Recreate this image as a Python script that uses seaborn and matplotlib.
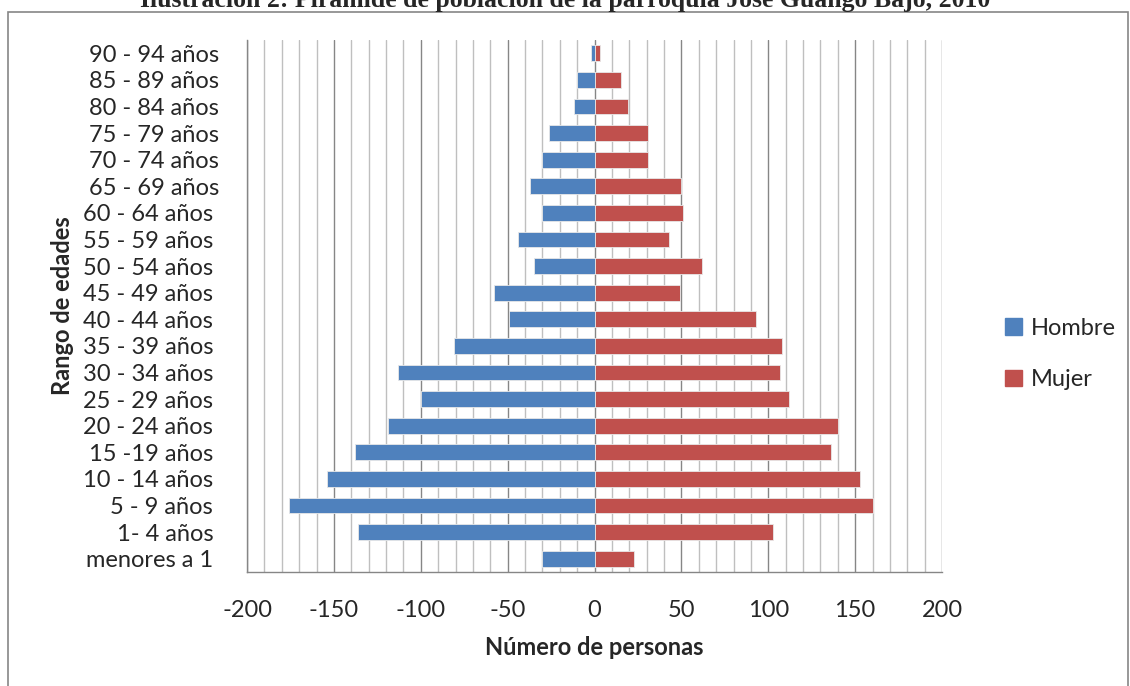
# Pirámide de población - parroquia José Guango Bajo, 2010

import numpy as np
import pandas as pd
import matplotlib.pyplot as plt
import matplotlib.patches as mpatches
import seaborn as sns
sns.set_style('white')
plt.rcParams['font.family'] = ['Lato', 'DejaVu Sans']


# Datos
edades = ['90 - 94 años', '85 - 89 años', '80 - 84 años', '75 - 79 años', '70 - 74 años',
          '65 - 69 años', '60 - 64 años ', '55 - 59 años ', '50 - 54 años ', '45 - 49 años ',
          '40 - 44 años ', '35 - 39 años ', '30 - 34 años ', '25 - 29 años ', '20 - 24 años ',
          '15 -19 años ', '10 - 14 años ', '5 - 9 años ', '1- 4 años ', 'menores a 1 ']
hombres = [-2, -10, -12, -26, -30, -37, -30, -44, -35, -58,
           -49, -81, -113, -100, -119, -138, -154, -176, -136, -30]
mujeres = [3, 15, 19, 31, 31, 50, 51, 43, 62, 49,
           93, 108, 107, 112, 140, 136, 153, 160, 103, 23]
sexos = ['Hombre', 'Mujer']
colores = ['#4F81BD', '#C0504D']
ticks_x = [-200, -150, -100, -50, 0, 50, 100, 150, 200]

dfData = pd.DataFrame({
    'Edad': edades * 2,
    'Personas': hombres + mujeres,
    'Sexo': [sexos[0]] * len(edades) + [sexos[1]] * len(edades),
})

fs = 17

fig = plt.figure(figsize=(11.3, 6.86), dpi=100)
ax = fig.add_axes([247 / 1130, 1 - 572 / 686, (942 - 247) / 1130, (572 - 40) / 686])

# grilla vertical (menor cada 10, mayor cada 50)
for v in range(-200, 201, 10):
    if v % 50 == 0:
        ax.axvline(v, color='#868686', lw=1.0, zorder=0)
    else:
        ax.axvline(v, color='#BFBFBF', lw=1.0, zorder=0)

sns.barplot(data=dfData, y='Edad', x='Personas', hue='Sexo', order=edades,
            palette=colores, saturation=1, dodge=False, width=0.6, orient='h',
            edgecolor='#e8e8e8', linewidth=0.6, legend=False, ax=ax, zorder=2)

ax.set_xlim(-200, 200)
ax.set_xticks(ticks_x)
ax.set_xticklabels([str(t) for t in ticks_x])
ax.tick_params(axis='x', length=7, width=1, color='#868686', pad=13, labelsize=fs, direction='out')
ax.tick_params(axis='y', length=0, pad=20, labelsize=fs)

for lado in ['top', 'right']:
    ax.spines[lado].set_visible(False)
for lado in ['left', 'bottom']:
    ax.spines[lado].set_color('#868686')
    ax.spines[lado].set_linewidth(1.0)

ax.set_xlabel('Número de personas', fontsize=fs, fontweight='bold', labelpad=11)
ax.set_ylabel('Rango de edades', fontsize=fs, fontweight='bold')
ax.yaxis.set_label_coords((74 - 247) / 695, 0.5)

# leyenda
handles = [mpatches.Patch(color=c, label=s) for s, c in zip(sexos, colores)]
fig.legend(handles=handles, loc='center left', bbox_to_anchor=(984 / 1130, 1 - 354 / 686),
           frameon=False, fontsize=fs, handlelength=0.7, handleheight=0.7,
           handletextpad=0.4, labelspacing=1.3)

# marco del gráfico
fig.patches.append(mpatches.Rectangle((8 / 1130, -0.05), (1128 - 8) / 1130, (686 - 12) / 686 + 0.05,
                                      transform=fig.transFigure, fill=False,
                                      edgecolor='#868686', lw=1.2))

# título (cortado arriba como en la original)
fig.text(0.5, 1 - 7 / 686, 'Ilustración 2: Pirámide de población de la parroquia José Guango Bajo, 2010',
         ha='center', va='baseline', fontsize=18.5, fontweight='bold',
         family=['Liberation Serif', 'DejaVu Serif'])

plt.savefig('out.png', dpi=100)
